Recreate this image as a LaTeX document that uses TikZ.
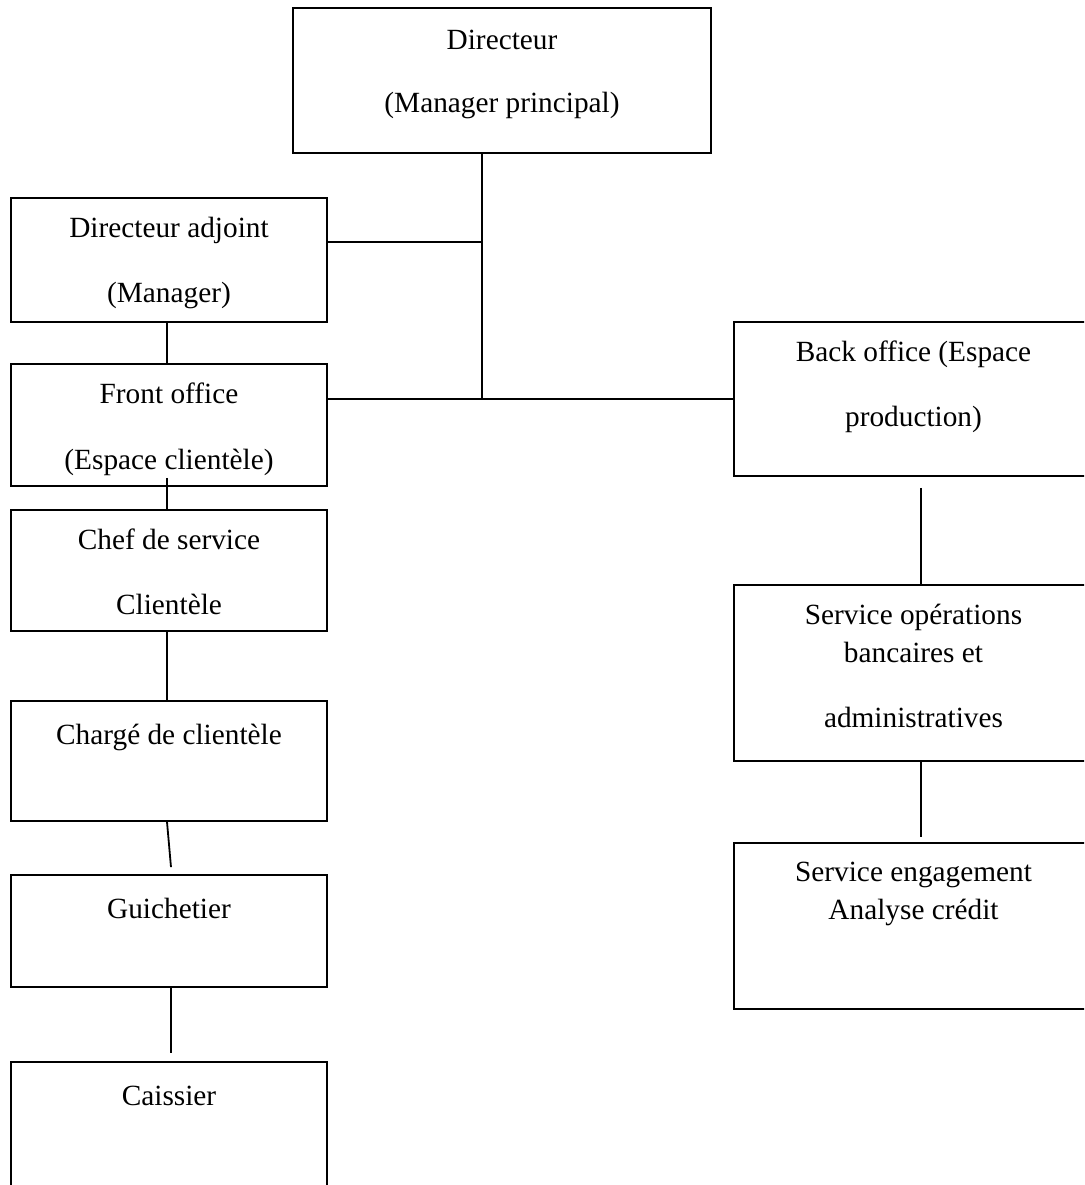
\documentclass[tikz,border=0pt]{standalone}
\usepackage{fontspec}
\setmainfont{Liberation Serif}

\begin{document}
\begin{tikzpicture}[
    x=1pt, y=-1pt,
    line width=1.8pt,
    every node/.style={font=\fontsize{29.3}{38.3}\selectfont},
    boite/.style={draw, rectangle, inner sep=0pt},
    titre/.style={anchor=north, align=center, inner sep=0pt, yshift=-19pt,
                  execute at begin node={\rule{0pt}{24pt}}}
  ]
  \clip (0,0) rectangle (1084,1185);

  % Direction
  \node[boite, minimum width=418pt, minimum height=145pt,
        label={[titre, yshift=-3pt]above:{Directeur\\[25pt](Manager principal)}}] (dir) at (502,80.5) {};
  \node[boite, minimum width=316pt, minimum height=124pt,
        label={[titre]above:{Directeur adjoint\\[27pt](Manager)}}] (adj) at (169,260) {};

  % Front office
  \node[boite, minimum width=316pt, minimum height=122pt,
        label={[titre]above:{Front office\\[28pt](Espace clientèle)}}] (front) at (169,425) {};
  \node[boite, minimum width=316pt, minimum height=121pt,
        label={[titre]above:{Chef de service\\[27pt]Clientèle}}] (chef) at (169,570.5) {};
  \node[boite, minimum width=316pt, minimum height=120pt,
        label={[titre]above:{Chargé de clientèle}}] (charge) at (169,761) {};
  \node[boite, minimum width=316pt, minimum height=112pt,
        label={[titre]above:{Guichetier}}] (guichet) at (169,931) {};
  \node[boite, minimum width=316pt, minimum height=150pt,
        label={[titre]above:{Caissier}}] (caisse) at (169,1137) {};

  % Back office
  \node[boite, minimum width=359pt, minimum height=154pt,
        label={[titre]above:{Back office (Espace\\[27pt]production)}}] (back) at (913.5,399) {};
  \node[boite, minimum width=359pt, minimum height=176pt,
        label={[titre]above:{Service opérations\\bancaires et\\[27pt]administratives}}] (ops) at (913.5,673) {};
  \node[boite, minimum width=359pt, minimum height=166pt,
        label={[titre]above:{Service engagement\\Analyse crédit}}] (engag) at (913.5,926) {};

  % Liaisons
  \coordinate (j1) at (482,242);
  \coordinate (j2) at (482,399);
  \draw (dir.south -| j2) -- (j2);
  \draw (j1 -| adj.east) -- (j1);
  \draw (j2 -| front.east) -- (j2 -| back.west);
  \draw ([xshift=-2pt]adj.south) -- ([xshift=-2pt]front.north);
  \draw ([xshift=-2pt,yshift=9pt]front.south) -- ([xshift=-2pt]chef.north);
  \draw ([xshift=-2pt]chef.south) -- ([xshift=-2pt]charge.north);
  \draw ([xshift=-2pt]charge.south) -- ([xshift=2pt,yshift=7pt]guichet.north);
  \draw ([xshift=2pt]guichet.south) -- ([xshift=2pt,yshift=8pt]caisse.north);
  \draw ([xshift=7.5pt,yshift=-11pt]back.south) -- ([xshift=7.5pt]ops.north);
  \draw ([xshift=7.5pt]ops.south) -- ([xshift=7.5pt,yshift=5pt]engag.north);
\end{tikzpicture}
\end{document}
